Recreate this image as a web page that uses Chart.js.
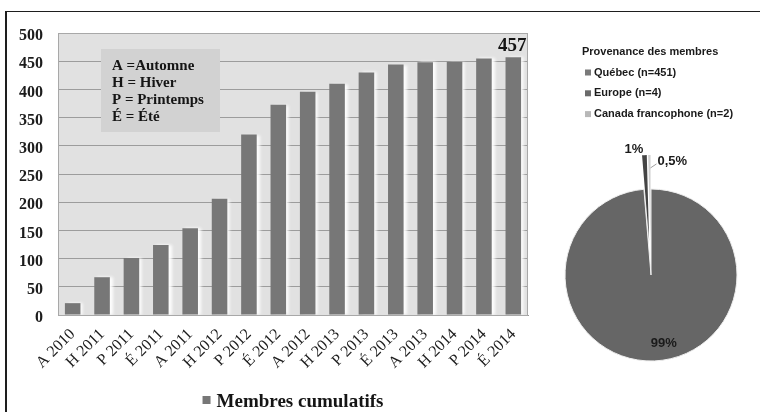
<!DOCTYPE html>
<html lang="fr">
<head>
<meta charset="utf-8">
<title>Membres cumulatifs et provenance des membres</title>
<script src="https://cdn.jsdelivr.net/npm/chart.js@4/dist/chart.umd.min.js"></script>
<style>
  html, body { margin: 0; padding: 0; background: #ffffff; overflow: hidden; }
  body { width: 760px; height: 412px; position: relative; }
  #frame { position: absolute; left: 5px; top: 11px; width: 800px; height: 450px;
           border-left: 2px solid #1e1e1e; border-top: 1.5px solid #1e1e1e; box-sizing: border-box; }
  #barWrap { position: absolute; left: 0; top: 14px; width: 580px; height: 398px; }
  #pieWrap { position: absolute; left: 560px; top: 14px; width: 200px; height: 398px; }
  canvas { display: block; }
</style>
</head>
<body>
<div id="frame"></div>
<div id="barWrap"><canvas id="bars" width="580" height="398"></canvas></div>
<div id="pieWrap"><canvas id="pie" width="200" height="398"></canvas></div>
<script>
// Sessions: A = Automne, H = Hiver, P = Printemps, É = Été
const sessions = ['A 2010', 'H 2011', 'P 2011', 'É 2011', 'A 2011', 'H 2012', 'P 2012', 'É 2012',
                  'A 2012', 'H 2013', 'P 2013', 'É 2013', 'A 2013', 'H 2014', 'P 2014', 'É 2014'];
const membresCumulatifs = [21, 67, 101, 124, 154, 206, 320, 373, 396, 410, 430, 444, 448, 449, 455, 457];
const yTicks = [0, 50, 100, 150, 200, 250, 300, 350, 400, 450, 500];
const sessionKey = ['A =Automne', 'H = Hiver', 'P = Printemps', 'É = Été'];

// Provenance des membres
const provenances = ['Québec (n=451)', 'Europe (n=4)', 'Canada francophone (n=2)'];
const effectifs = [451, 4, 2];
const pourcentages = ['99%', '1%', '0,5%'];

const SERIF = '"Liberation Serif", "DejaVu Serif", serif';
const SANS = '"Liberation Sans", Arial, sans-serif';

// Plot background, outline and the session key box
const plotDecor = {
  id: 'plotDecor',
  beforeDraw(chart) {
    const { ctx, chartArea: a } = chart;
    ctx.save();
    ctx.fillStyle = '#e1e1e1';
    ctx.fillRect(a.left, a.top, a.right - a.left, a.bottom - a.top);
    ctx.restore();
  },
  beforeDatasetsDraw(chart) {
    const { ctx, chartArea: a } = chart;
    ctx.save();
    ctx.strokeStyle = '#a8a8a8';
    ctx.lineWidth = 1;
    ctx.strokeRect(a.left + 0.5, a.top + 0.5, a.right - a.left - 1, a.bottom - a.top);
    // key box
    const bx = a.left + 43, by = a.top + 16, bw = 119, bh = 83;
    ctx.fillStyle = '#d2d2d2';
    ctx.fillRect(bx, by, bw, bh);
    ctx.fillStyle = '#151515';
    ctx.font = 'bold 15px ' + SERIF;
    ctx.textBaseline = 'alphabetic';
    ctx.textAlign = 'left';
    sessionKey.forEach((t, i) => ctx.fillText(t, bx + 11, by + 20.5 + i * 17.2));
    ctx.restore();
    // soft light shadow to the right of each bar
    ctx.save();
    ctx.shadowColor = 'rgba(255,255,255,0.95)';
    ctx.shadowOffsetX = 3;
    ctx.shadowOffsetY = 0;
    ctx.shadowBlur = 3;
  },
  afterDatasetsDraw(chart) {
    const { ctx } = chart;
    ctx.restore();
    // value of the last session above its bar
    const meta = chart.getDatasetMeta(0);
    const last = meta.data[meta.data.length - 1];
    ctx.save();
    ctx.fillStyle = '#151515';
    ctx.font = 'bold 19px ' + SERIF;
    ctx.textAlign = 'center';
    ctx.textBaseline = 'alphabetic';
    ctx.fillText(String(membresCumulatifs[membresCumulatifs.length - 1]), last.x - 1, last.y - 6);
    ctx.restore();
  },
  afterDraw(chart) {
    // series legend centred under the plot
    const { ctx, chartArea: a } = chart;
    const label = chart.data.datasets[0].label;
    ctx.save();
    ctx.font = 'bold 19px ' + SERIF;
    const tw = ctx.measureText(label).width;
    const total = 8 + 6 + tw;
    const x0 = (a.left + a.right) / 2 - total / 2;
    const yMid = 386;
    ctx.fillStyle = '#777777';
    ctx.fillRect(x0, yMid - 4, 8, 8);
    ctx.fillStyle = '#151515';
    ctx.textBaseline = 'alphabetic';
    ctx.textAlign = 'left';
    ctx.fillText(label, x0 + 14, yMid + 7);
    ctx.restore();
  }
};

new Chart(document.getElementById('bars'), {
  type: 'bar',
  data: {
    labels: sessions,
    datasets: [{
      label: 'Membres cumulatifs',
      data: membresCumulatifs,
      backgroundColor: '#777777',
      borderWidth: 0,
      categoryPercentage: 0.53,
      barPercentage: 1
    }]
  },
  options: {
    responsive: false,
    animation: false,
    events: [],
    layout: { padding: { left: 8, top: 19, right: 52, bottom: 37 } },
    plugins: { legend: { display: false }, tooltip: { enabled: false } },
    scales: {
      x: {
        grid: { display: false },
        border: { display: true, color: '#9a9a9a', width: 1 },
        ticks: {
          autoSkip: false, maxRotation: 45, minRotation: 45, padding: 2,
          color: '#1c1c1c', font: { family: SERIF, size: 16 }
        },
        afterFit(scale) { scale.height = 60; }
      },
      y: {
        min: 0, max: 500,
        afterBuildTicks(scale) { scale.ticks = yTicks.map(v => ({ value: v })); },
        grid: { color: '#9c9c9c', lineWidth: 1, drawTicks: false },
        border: { display: true, color: '#b0b0b0' },
        ticks: {
          padding: 15, labelOffset: 3, color: '#1c1c1c',
          font: { family: SERIF, size: 16, weight: 'bold', lineHeight: 0.5 }
        },
        afterFit(scale) { scale.width = 50; }
      }
    }
  },
  plugins: [plotDecor]
});

// The small slices are pulled out of the pie: they are left transparent in place
// and their arc elements are drawn again, shifted outward along their middle angle.
const explodeSlices = {
  id: 'explodeSlices',
  afterDatasetsDraw(chart) {
    const { ctx } = chart;
    const ds = chart.data.datasets[0];
    const meta = chart.getDatasetMeta(0);
    meta.data.forEach((arc, i) => {
      const d = ds.explode[i];
      if (!d) return;
      const mid = (arc.startAngle + arc.endAngle) / 2;
      const saved = arc.options;
      arc.options = Object.assign({}, saved, { backgroundColor: ds.sliceColors[i], borderWidth: 0, offset: 0 });
      ctx.save();
      ctx.translate(Math.cos(mid) * d, Math.sin(mid) * d);
      arc.draw(ctx);
      ctx.restore();
      arc.options = saved;
    });
  }
};

// Legend and percentage labels of the pie
const pieDecor = {
  id: 'pieDecor',
  afterDatasetsDraw(chart) {
    const { ctx } = chart;
    const ds = chart.data.datasets[0];
    const meta = chart.getDatasetMeta(0);
    ctx.save();
    ctx.fillStyle = '#1a1a1a';
    ctx.textBaseline = 'middle';
    meta.data.forEach((arc, i) => {
      const p = arc.getProps(['x', 'y', 'startAngle', 'endAngle', 'outerRadius'], true);
      const mid = (p.startAngle + p.endAngle) / 2;
      const d = ds.explode[i];
      const cx = Math.cos(mid), cy = Math.sin(mid);
      ctx.font = 'bold 13px ' + SANS;
      if (i === 0) {
        ctx.textAlign = 'center';
        const r = p.outerRadius * 0.8;
        ctx.fillText(pourcentages[i], p.x + cx * r + 10, p.y + cy * r);
      } else {
        const tip = p.outerRadius + d;
        const tx = p.x + cx * tip, ty = p.y + cy * tip;
        if (i === 1) {
          ctx.textAlign = 'right';
          ctx.fillText(pourcentages[i], tx - 1, ty - 6);
        } else {
          const r2 = p.outerRadius * 0.85 + d;
          const lx = p.x + cx * r2, ly = p.y + cy * r2;
          ctx.strokeStyle = '#a0a0a0';
          ctx.lineWidth = 1;
          ctx.beginPath();
          ctx.moveTo(lx + 1, ly);
          ctx.lineTo(lx + 7, ly - 4);
          ctx.stroke();
          ctx.textAlign = 'left';
          ctx.fillText(pourcentages[i], lx + 8, ly - 6);
        }
      }
    });
    ctx.restore();
  },
  afterDraw(chart) {
    const { ctx } = chart;
    const colors = chart.data.datasets[0].legendColors;
    ctx.save();
    ctx.fillStyle = '#1a1a1a';
    ctx.textBaseline = 'middle';
    ctx.textAlign = 'left';
    ctx.font = 'bold 11px ' + SANS;
    ctx.fillText('Provenance des membres', 22, 38);
    chart.data.labels.forEach((lab, i) => {
      const y = 58.5 + i * 20.8;
      ctx.fillStyle = colors[i];
      ctx.fillRect(25, y - 3, 6, 6);
      ctx.fillStyle = '#1a1a1a';
      ctx.fillText(lab, 34, y);
    });
    ctx.restore();
  }
};

new Chart(document.getElementById('pie'), {
  type: 'pie',
  data: {
    labels: provenances,
    datasets: [{
      data: effectifs,
      backgroundColor: ['#666666', 'rgba(255,255,255,0)', 'rgba(255,255,255,0)'],
      sliceColors: ['#666666', '#444444', '#d0d0d0'],
      legendColors: ['#7a7a7a', '#6a6a6a', '#b8b8b8'],
      explode: [0, 34, 34],
      borderColor: ['#eeeeee', 'rgba(255,255,255,0)', 'rgba(255,255,255,0)'],
      borderWidth: [1, 0, 0]
    }]
  },
  options: {
    responsive: false,
    animation: false,
    events: [],
    radius: 86,
    layout: { padding: { left: 0, right: 18, top: 130, bottom: 6 } },
    plugins: { legend: { display: false }, tooltip: { enabled: false } }
  },
  plugins: [explodeSlices, pieDecor]
});
</script>
</body>
</html>
